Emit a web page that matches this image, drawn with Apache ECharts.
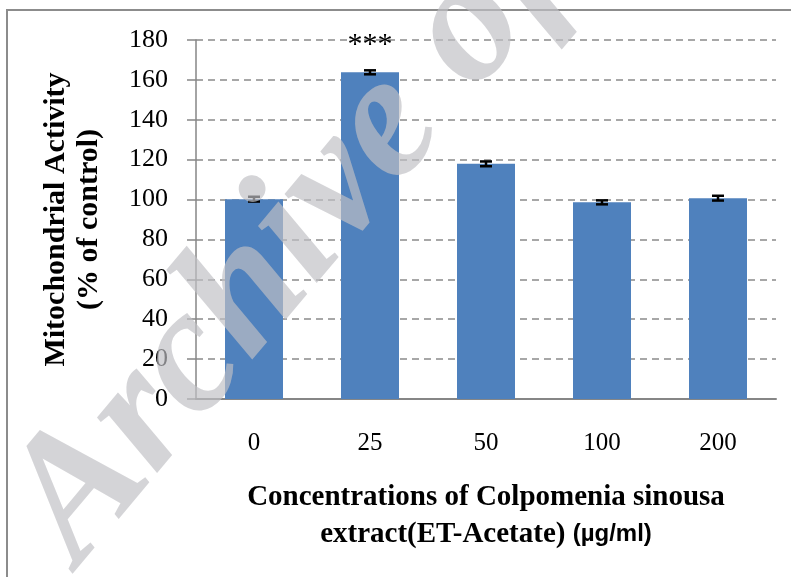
<!DOCTYPE html>
<html>
<head>
<meta charset="utf-8">
<script src="https://cdn.jsdelivr.net/npm/echarts@6/dist/echarts.min.js"></script>
<style>
  html, body { margin: 0; padding: 0; background: #fff; }
  #chart { width: 791px; height: 577px; }
</style>
</head>
<body>
<div id="chart"></div>
<script>
// 数据
var categories = ['0', '25', '50', '100', '200'];
var activity = [100.2, 163.8, 117.9, 98.6, 100.7];
var errors = [1.2, 1.0, 1.2, 1.0, 1.2];
var sigMarks = ['', '***', '', '', ''];
var yTicks = [0, 20, 40, 60, 80, 100, 120, 140, 160, 180];

var serif = '"Liberation Serif", "Times New Roman", serif';

var chart = echarts.init(document.getElementById('chart'));

var option = {
  animation: false,
  backgroundColor: '#fff',
  grid: { left: 196, right: 15, top: 40, bottom: 178 },
  //x轴
  xAxis: {
    type: 'category',
    data: categories,
    axisLine: { lineStyle: { color: '#868686', width: 2 } },
    axisTick: { show: false },
    axisLabel: { fontFamily: serif, fontSize: 25, color: '#000', margin: 32 },
    name: '{b|Concentrations of Colpomenia sinousa}\n{b|extract(ET-Acetate) }{s|(µg/ml)}',
    nameLocation: 'middle',
    nameGap: 80,
    nameTextStyle: {
      rich: {
        b: { fontFamily: serif, fontWeight: 'bold', fontSize: 29, color: '#000', lineHeight: 37 },
        s: { fontFamily: '"Liberation Sans", Arial, sans-serif', fontWeight: 'bold', fontSize: 24, color: '#000', lineHeight: 37 }
      }
    }
  },
  //y轴
  yAxis: {
    type: 'value',
    min: yTicks[0],
    max: yTicks[yTicks.length - 1],
    interval: yTicks[1] - yTicks[0],
    axisLine: { show: true, lineStyle: { color: '#868686', width: 1.5 } },
    axisTick: { show: true, length: 9, lineStyle: { color: '#868686', width: 1.5 } },
    axisLabel: { fontFamily: serif, fontSize: 26, color: '#000', margin: 28 },
    splitLine: { lineStyle: { color: '#8a8a8a', width: 1.5, type: [7, 5] } },
    name: 'Mitochondrial Activity\n(% of control)',
    nameLocation: 'middle',
    nameGap: 90,
    nameTextStyle: { fontFamily: serif, fontWeight: 'bold', fontSize: 30, color: '#000', lineHeight: 33 }
  },
  series: [
    {
      name: 'activity',
      type: 'bar',
      data: activity,
      barWidth: '50%',
      itemStyle: { color: '#4F81BD' },
      label: {
        show: true,
        position: 'top',
        distance: 12,
        fontFamily: serif,
        fontSize: 30,
        color: '#000',
        formatter: function (p) { return sigMarks[p.dataIndex]; }
      }
    },
    {
      //误差线
      name: 'error',
      type: 'custom',
      data: activity.map(function (v, i) { return [i, v - errors[i], v + errors[i]]; }),
      z: 5,
      renderItem: function (params, api) {
        var lo = api.coord([api.value(0), api.value(1)]);
        var hi = api.coord([api.value(0), api.value(2)]);
        var half = 6;
        var st = { stroke: '#000', lineWidth: 2.5 };
        return {
          type: 'group',
          children: [
            { type: 'line', shape: { x1: lo[0], y1: lo[1], x2: hi[0], y2: hi[1] }, style: st },
            { type: 'line', shape: { x1: lo[0] - half, y1: lo[1], x2: lo[0] + half, y2: lo[1] }, style: st },
            { type: 'line', shape: { x1: hi[0] - half, y1: hi[1], x2: hi[0] + half, y2: hi[1] }, style: st }
          ]
        };
      }
    }
  ],
  graphic: [
    {
      //外框
      type: 'rect',
      shape: { x: 7, y: 10, width: 820, height: 620 },
      style: { fill: 'none', stroke: '#8c8c8c', lineWidth: 2 },
      z: 0
    },
    {
      //水印
      type: 'text',
      x: -25,
      y: 480,
      rotation: 50 * Math.PI / 180,
      z: 100,
      style: {
        text: 'Archive of SID',
        font: 'italic bold 178px "Liberation Serif", serif',
        fill: 'rgba(192,192,196,0.68)',
        textVerticalAlign: 'alphabetic'
      }
    }
  ]
};

chart.setOption(option);
</script>
</body>
</html>
